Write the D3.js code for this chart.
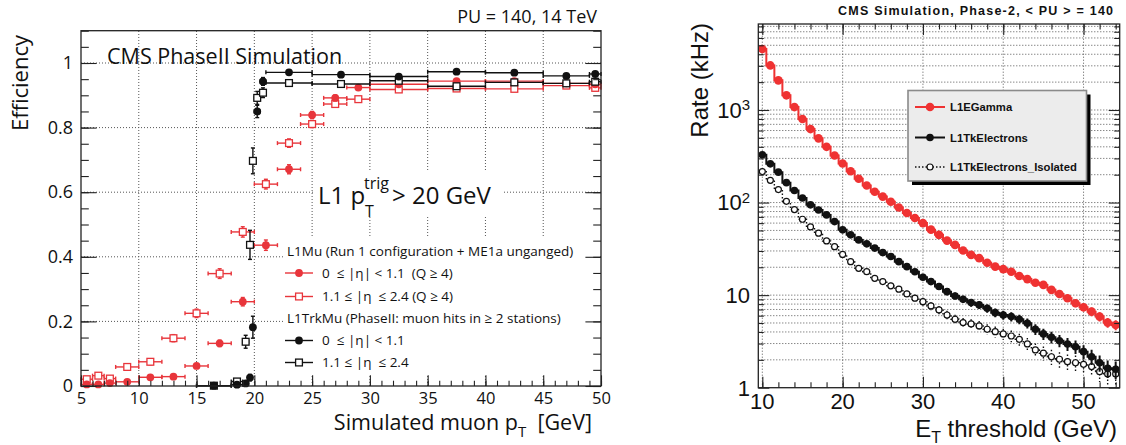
<!DOCTYPE html>
<html>
<head>
<meta charset="utf-8">
<script src="https://cdn.jsdelivr.net/npm/d3@7/dist/d3.min.js"></script>
<style>
html,body{margin:0;padding:0;background:#fff;}
svg{display:block;}
.lf{font-family:"Open Sans","Noto Sans",sans-serif;}
.rf{font-family:"Liberation Sans",Arial,Helvetica,sans-serif;}
</style>
</head>
<body>
<svg id="chart" width="1126" height="445"></svg>
<script>
// ================= LEFT PANEL DATA (efficiency vs simulated muon pT) =================
const muBinLow  = [5,6,7,8,10,12,14,16,18,20,22,24,26,28,30,35,40,45,49];
const muBinHigh = [6,7,8,10,12,14,16,18,20,22,24,26,28,30,35,40,45,49,50];
const l1muBarrelEff = [0.005,0.005,0.009,0.013,0.027,0.029,0.062,0.132,0.261,0.436,0.671,0.839,0.892,0.924,0.934,0.944,0.944,0.937,0.934];
const l1muBarrelErr = [0.003,0.003,0.003,0.004,0.004,0.005,0.007,0.010,0.013,0.016,0.014,0.011,0.009,0.007,0.005,0.005,0.005,0.006,0.008];
const l1muEndcapEff = [0.021,0.032,0.023,0.059,0.075,0.148,0.225,0.348,0.477,0.625,0.752,0.811,0.873,0.888,0.918,0.921,0.920,0.930,0.923];
const l1muEndcapErr = [0.006,0.007,0.006,0.008,0.009,0.011,0.013,0.015,0.016,0.015,0.013,0.011,0.009,0.008,0.005,0.005,0.005,0.006,0.009];
const trkBinLow  = [15,18,19,19.5,19.75,20,20.5,21,25,30,35,40,45,49];
const trkBinHigh = [18,19,19.5,19.75,20,20.5,21,25,30,35,40,45,49,50];
const trkBarrelEff = [0.001,0.004,0.008,0.026,0.182,0.850,0.943,0.971,0.964,0.958,0.973,0.970,0.960,0.966];
const trkBarrelErr = [0.002,0.004,0.006,0.010,0.034,0.019,0.012,0.004,0.004,0.004,0.004,0.004,0.005,0.006];
const trkEndcapEff = [0.001,0.014,0.137,0.437,0.697,0.892,0.908,0.938,0.935,0.945,0.928,0.940,0.937,0.942];
const trkEndcapErr = [0.002,0.006,0.020,0.045,0.040,0.020,0.015,0.005,0.005,0.005,0.005,0.005,0.006,0.008];
const effXTicks = [5,10,15,20,25,30,35,40,45,50];
const effYTicks = [0,0.2,0.4,0.6,0.8,1];
const effYTickLabels = ["0","0.2","0.4","0.6","0.8","1"];
const leftLegendLabels = [
  "L1Mu (Run 1 configuration + ME1a unganged)",
  "0  \u2264 |\u03b7| < 1.1  (Q \u2265 4)",
  "1.1 \u2264 |\u03b7  \u2264 2.4 (Q \u2265 4)",
  "L1TrkMu (PhaseII: muon hits in \u2265 2 stations)",
  "0  \u2264 |\u03b7| < 1.1",
  "1.1 \u2264 |\u03b7  \u2264 2.4"
];

// ================= RIGHT PANEL DATA (rate vs ET threshold) =================
const etThreshold = [10,11,12,13,14,15,16,17,18,19,20,21,22,23,24,25,26,27,28,29,30,31,32,33,34,35,36,37,38,39,40,41,42,43,44,45,46,47,48,49,50,51,52,53,54];
const rateL1EGamma = [4550,3030,2090,1440,1075,800,622,494,400,322,264,218,181,153,131,116,102,88.5,77,68,60,51,44.8,38.8,34.9,30.3,27.2,25.1,22.4,20.3,19.1,17.9,16.1,14.9,13.6,12.9,11.4,10.3,9.25,8.17,7.4,6.63,5.86,5.05,4.76];
const rateL1TkEle = [328,262,213,164,135,112,94.5,83,73.6,62.3,50.7,44.8,39.5,35.8,32.2,28.8,26.1,23,20.3,17.9,15.6,14,12.4,10.9,9.8,9.03,8.3,7.84,7.2,6.47,6.1,5.86,5.49,4.97,4.28,3.81,3.51,3.22,2.97,2.77,2.45,2.16,1.86,1.62,1.58];
const rateL1TkEleIso = [216,174,138,103,84,66,54.5,46.7,38.5,33.4,27.5,23,19.5,17.9,15.2,14,12.6,11.6,10.3,9.26,8.5,7.64,6.92,6.1,5.49,5.05,4.88,4.65,4.28,4.03,3.81,3.62,3.33,2.97,2.56,2.36,2.16,2.03,1.91,1.86,1.79,1.69,1.49,1.41,1.41];
const kHzPerEvent = 0.075;   // statistical scale used for the Poisson error bars
const rateXTicks = [10,20,30,40,50];
const rateYTicks = [1,10,100,1000];
const rateYTickLabels = [["1",""],["10",""],["10","2"],["10","3"]];
const rightLegendLabels = ["L1EGamma","L1TkElectrons","L1TkElectrons_Isolated"];

// ================= DRAWING =================
const svg = d3.select("#chart");
const RED_L = "#e8353b", RED_R = "#ef3232";

// ---------- LEFT ----------
const xL = d3.scaleLinear().domain([5,50]).range([81,601]);
const yL = d3.scaleLinear().domain([0,1.1]).range([386,30.7]);
const gL = svg.append("g").attr("class","lf");

// grid
const gridL = gL.append("g").attr("stroke","#555").attr("stroke-width",1).attr("stroke-dasharray","1,2");
gridL.selectAll("line.v").data(effXTicks.slice(1,-1)).join("line").attr("class","v")
  .attr("x1",d=>xL(d)).attr("x2",d=>xL(d)).attr("y1",yL(0)).attr("y2",yL(1.1));
gridL.selectAll("line.h").data(effYTicks.slice(1)).join("line").attr("class","h")
  .attr("x1",xL(5)).attr("x2",xL(50)).attr("y1",d=>yL(d)).attr("y2",d=>yL(d));

// white boxes (text box and legend)
gL.append("rect").attr("x",313).attr("y",170).attr("width",189).attr("height",47).attr("fill","#fff");
gL.append("rect").attr("x",283).attr("y",237).attr("width",316).attr("height",137).attr("fill","#fff");

function effSeries(lo, hi, eff, err, color, type){
  const pts = eff.map((v,i)=>({lo:lo[i],hi:hi[i],c:(lo[i]+hi[i])/2,v:v,e:err[i]}));
  const g = gL.append("g").attr("stroke",color).attr("stroke-width",1.4);
  pts.forEach(p=>{
    const y = yL(p.v), x = xL(p.c);
    g.append("line").attr("x1",xL(p.lo)).attr("x2",xL(p.hi)).attr("y1",y).attr("y2",y);
    g.append("line").attr("x1",xL(p.lo)).attr("x2",xL(p.lo)).attr("y1",y-2).attr("y2",y+2);
    g.append("line").attr("x1",xL(p.hi)).attr("x2",xL(p.hi)).attr("y1",y-2).attr("y2",y+2);
    const yt = yL(Math.min(p.v+p.e,1.1)), yb = yL(Math.max(p.v-p.e,0));
    g.append("line").attr("x1",x).attr("x2",x).attr("y1",yt).attr("y2",yb);
    g.append("line").attr("x1",x-2).attr("x2",x+2).attr("y1",yt).attr("y2",yt);
    g.append("line").attr("x1",x-2).attr("x2",x+2).attr("y1",yb).attr("y2",yb);
  });
  pts.forEach(p=>drawLMarker(g, xL(p.c), yL(p.v), color, type));
}
function drawLMarker(g, x, y, color, type){
  if(type==="circle"){
    g.append("circle").attr("cx",x).attr("cy",y).attr("r",3.9).attr("fill",color).attr("stroke","none");
  } else {
    g.append("rect").attr("x",x-3.4).attr("y",y-3.4).attr("width",6.8).attr("height",6.8)
      .attr("fill","#fff").attr("stroke",color).attr("stroke-width",1.3);
  }
}
effSeries(muBinLow, muBinHigh, l1muEndcapEff, l1muEndcapErr, RED_L, "square");
effSeries(muBinLow, muBinHigh, l1muBarrelEff, l1muBarrelErr, RED_L, "circle");
effSeries(trkBinLow, trkBinHigh, trkEndcapEff, trkEndcapErr, "#111", "square");
effSeries(trkBinLow, trkBinHigh, trkBarrelEff, trkBarrelErr, "#111", "circle");

// axes (inward ticks)
const axL = gL.append("g").attr("transform",`translate(0,${yL(0)})`)
  .call(d3.axisBottom(xL).tickValues(effXTicks).tickSize(-10.7).tickPadding(6).tickFormat(d3.format("d")));
gL.append("g").attr("transform",`translate(0,${yL(0)})`)
  .call(d3.axisBottom(xL).tickValues(d3.range(5,51,1)).tickSize(-5.3).tickFormat(""));
const ayL = gL.append("g").attr("transform",`translate(${xL(5)},0)`)
  .call(d3.axisLeft(yL).tickValues(effYTicks).tickSize(-15.6).tickPadding(8).tickFormat((d,i)=>effYTickLabels[i]));
gL.append("g").attr("transform",`translate(${xL(5)},0)`)
  .call(d3.axisLeft(yL).tickValues(d3.range(0,1.1001,0.05)).tickSize(-7.8).tickFormat(""));
gL.append("g").attr("transform",`translate(${xL(50)},0)`)
  .call(d3.axisRight(yL).tickValues(effYTicks).tickSize(-15.6).tickFormat(""));
gL.append("g").attr("transform",`translate(${xL(50)},0)`)
  .call(d3.axisRight(yL).tickValues(d3.range(0,1.1001,0.05)).tickSize(-7.8).tickFormat(""));
gL.selectAll(".domain").remove();
gL.selectAll(".tick line").attr("stroke","#222").attr("stroke-width",1.1);
axL.selectAll(".tick text").attr("font-size",16.5).attr("fill","#111").attr("font-family","Open Sans");
ayL.selectAll(".tick text").attr("font-size",18).attr("fill","#111").attr("font-family","Open Sans");
gL.append("rect").attr("x",xL(5)).attr("y",yL(1.1)).attr("width",xL(50)-xL(5)).attr("height",yL(0)-yL(1.1))
  .attr("fill","none").attr("stroke","#222").attr("stroke-width",1.3);

// texts
gL.append("text").attr("x",107).attr("y",63.5).attr("font-size",21.5).attr("fill","#111").text("CMS PhaseII Simulation");
gL.append("text").attr("x",597).attr("y",23).attr("text-anchor","end").attr("font-size",18).attr("fill","#111").text("PU = 140, 14 TeV");
gL.append("text").attr("transform","translate(28,35) rotate(-90)").attr("text-anchor","end").attr("font-size",22).attr("fill","#111").text("Efficiency");
const xt = gL.append("text").attr("x",592).attr("y",430).attr("text-anchor","end").attr("font-size",21.5).attr("fill","#111").attr("xml:space","preserve");
xt.append("tspan").text("Simulated muon p");
xt.append("tspan").attr("dy",7).attr("font-size",15).text("T");
xt.append("tspan").attr("dy",-7).text("\u00a0\u00a0[GeV]");
gL.append("text").attr("x",318).attr("y",203.5).attr("font-size",24).attr("fill","#111").text("L1 p");
gL.append("text").attr("x",364).attr("y",189).attr("font-size",16).attr("fill","#111").text("trig");
gL.append("text").attr("x",365).attr("y",217).attr("font-size",16).attr("fill","#111").text("T");
gL.append("text").attr("x",392).attr("y",203.5).attr("font-size",24).attr("fill","#111").text("> 20 GeV");

// left legend
const legRowsY = [250.7,273,296.5,318,340.5,362.5];
const legKinds = [null,{c:RED_L,t:"circle"},{c:RED_L,t:"square"},null,{c:"#111",t:"circle"},{c:"#111",t:"square"}];
const gLeg = gL.append("g");
leftLegendLabels.forEach((lab,i)=>{
  const k = legKinds[i];
  gLeg.append("text").attr("x",k?322:287).attr("y",legRowsY[i]).attr("dy","0.36em")
    .attr("font-size",13.5).attr("fill","#111").style("white-space","pre").text(lab);
  if(k){
    gLeg.append("line").attr("x1",285).attr("x2",313).attr("y1",legRowsY[i]).attr("y2",legRowsY[i]).attr("stroke",k.c).attr("stroke-width",1.4);
    drawLMarker(gLeg, 299, legRowsY[i], k.c, k.t);
  }
});

// ---------- RIGHT ----------
const xR = d3.scaleLinear().domain([9.5,54.5]).range([758.3,1119.7]);
const yR = d3.scaleLog().domain([1,8490]).range([387.7,24]);
const gR = svg.append("g").attr("class","rf");

const yMinorR = [];
[1,10,100,1000].forEach(dec=>{ for(let m=2;m<=9;m++){ if(m*dec<8490) yMinorR.push(m*dec);} });
const gridR = gR.append("g").attr("stroke","#555").attr("stroke-width",1).attr("stroke-dasharray","1,2");
gridR.selectAll("line.v").data(rateXTicks).join("line").attr("class","v")
  .attr("x1",d=>xR(d)).attr("x2",d=>xR(d)).attr("y1",yR(1)).attr("y2",yR(8490));
gridR.selectAll("line.h").data(rateYTicks.slice(1).concat(yMinorR)).join("line").attr("class","h")
  .attr("x1",xR(9.5)).attr("x2",xR(54.5)).attr("y1",d=>yR(d)).attr("y2",d=>yR(d));

const clip = svg.append("defs").append("clipPath").attr("id","clipR");
clip.append("rect").attr("x",xR(9.5)).attr("y",yR(8490)).attr("width",xR(54.5)-xR(9.5)).attr("height",yR(1)-yR(8490));

function rateSeries(vals, color, kind){
  const pts = vals.map((v,i)=>({x:etThreshold[i], v:v, e:Math.sqrt(v*kHzPerEvent)}));
  const g = gR.append("g").attr("clip-path","url(#clipR)");
  const dotted = kind==="open";
  const sw = dotted?1.4:2;
  const line = d3.line().x(d=>xR(d.x)).y(d=>yR(d.v)).curve(d3.curveStep);
  g.append("path").datum(pts).attr("d",line).attr("fill","none").attr("stroke",color).attr("stroke-width",sw)
    .attr("stroke-dasharray",dotted?"1.5,2":null);
  g.selectAll("line.err").data(pts).join("line").attr("class","err")
    .attr("x1",d=>xR(d.x)).attr("x2",d=>xR(d.x))
    .attr("y1",d=>yR(d.v+d.e)).attr("y2",d=>yR(Math.max(d.v-d.e,0.5)))
    .attr("stroke",color).attr("stroke-width",sw).attr("stroke-dasharray",dotted?"1.5,2":null);
  pts.forEach(p=>drawRMarker(g, xR(p.x), yR(p.v), color, kind));
}
function drawRMarker(g, x, y, color, kind){
  if(kind==="open"){
    g.append("circle").attr("cx",x).attr("cy",y).attr("r",3).attr("fill","#fff").attr("stroke",color).attr("stroke-width",1.2);
  } else {
    g.append("circle").attr("cx",x).attr("cy",y).attr("r",kind==="big"?4.3:3.8).attr("fill",color);
  }
}
rateSeries(rateL1TkEleIso, "#111", "open");
rateSeries(rateL1TkEle, "#111", "filled");
rateSeries(rateL1EGamma, RED_R, "big");

// ticks
gR.append("g").attr("transform",`translate(0,${yR(1)})`).call(d3.axisBottom(xR).tickValues(rateXTicks).tickSize(-11).tickFormat(""));
gR.append("g").attr("transform",`translate(0,${yR(1)})`).call(d3.axisBottom(xR).tickValues(d3.range(10,55,2)).tickSize(-5.5).tickFormat(""));
gR.append("g").attr("transform",`translate(0,${yR(8490)})`).call(d3.axisTop(xR).tickValues(rateXTicks).tickSize(-11).tickFormat(""));
gR.append("g").attr("transform",`translate(0,${yR(8490)})`).call(d3.axisTop(xR).tickValues(d3.range(10,55,2)).tickSize(-5.5).tickFormat(""));
gR.append("g").attr("transform",`translate(${xR(9.5)},0)`).call(d3.axisLeft(yR).tickValues(rateYTicks).tickSize(-11).tickFormat(""));
gR.append("g").attr("transform",`translate(${xR(9.5)},0)`).call(d3.axisLeft(yR).tickValues(yMinorR).tickSize(-5.5).tickFormat(""));
gR.append("g").attr("transform",`translate(${xR(54.5)},0)`).call(d3.axisRight(yR).tickValues(rateYTicks).tickSize(-11).tickFormat(""));
gR.append("g").attr("transform",`translate(${xR(54.5)},0)`).call(d3.axisRight(yR).tickValues(yMinorR).tickSize(-5.5).tickFormat(""));
gR.selectAll(".domain").remove();
gR.selectAll(".tick line").attr("stroke","#222").attr("stroke-width",1.1);
gR.append("rect").attr("x",xR(9.5)).attr("y",yR(8490)).attr("width",xR(54.5)-xR(9.5)).attr("height",yR(1)-yR(8490))
  .attr("fill","none").attr("stroke","#222").attr("stroke-width",1.3);

// tick labels
rateXTicks.forEach(t=>{
  gR.append("text").attr("x",xR(t)).attr("y",409).attr("text-anchor","middle").attr("font-size",22).attr("fill","#111").text(t);
});
rateYTicks.forEach((t,i)=>{
  const lab = rateYTickLabels[i];
  const tx = gR.append("text").attr("x",750).attr("y",yR(t)).attr("dy","0.36em").attr("text-anchor","end").attr("font-size",22).attr("fill","#111");
  tx.append("tspan").text(lab[0]);
  if(lab[1]) tx.append("tspan").attr("dy","-0.5em").attr("font-size",15).text(lab[1]);
});

// titles
gR.append("text").attr("x",1113).attr("y",15).attr("text-anchor","end").attr("font-size",12.5).attr("font-weight","bold")
  .attr("fill","#111").attr("textLength",275).attr("lengthAdjust","spacing").text("CMS Simulation, Phase-2, < PU > = 140");
gR.append("text").attr("transform","translate(708,23) rotate(-90)").attr("text-anchor","end").attr("font-size",24).attr("fill","#111").text("Rate (kHz)");
const xtR = gR.append("text").attr("x",1117).attr("y",436.5).attr("text-anchor","end").attr("font-size",24).attr("fill","#111");
xtR.append("tspan").text("E");
xtR.append("tspan").attr("dy",6).attr("font-size",16).text("T");
xtR.append("tspan").attr("dy",-6).text(" threshold (GeV)");

// right legend
const lgx = 908, lgy = 90.5, lgw = 178.5, lgh = 90.5;
gR.append("rect").attr("x",lgx+4).attr("y",lgy+4).attr("width",lgw).attr("height",lgh).attr("fill","#000");
gR.append("rect").attr("x",lgx).attr("y",lgy).attr("width",lgw).attr("height",lgh).attr("fill","#ececec").attr("stroke","#8a8a8a").attr("stroke-width",1.6);
const rLegY = [107,137.5,167];
const rLegKinds = [{c:RED_R,k:"big"},{c:"#111",k:"filled"},{c:"#111",k:"open"}];
rightLegendLabels.forEach((lab,i)=>{
  const k = rLegKinds[i];
  gR.append("line").attr("x1",915).attr("x2",945).attr("y1",rLegY[i]).attr("y2",rLegY[i])
    .attr("stroke",k.c).attr("stroke-width",k.k==="open"?1.4:2).attr("stroke-dasharray",k.k==="open"?"1.5,2":null);
  drawRMarker(gR, 930, rLegY[i], k.c, k.k);
  gR.append("text").attr("x",950).attr("y",rLegY[i]).attr("dy","0.36em").attr("font-size",11.3).attr("font-weight","bold").attr("fill","#111").text(lab);
});
</script>
</body>
</html>
